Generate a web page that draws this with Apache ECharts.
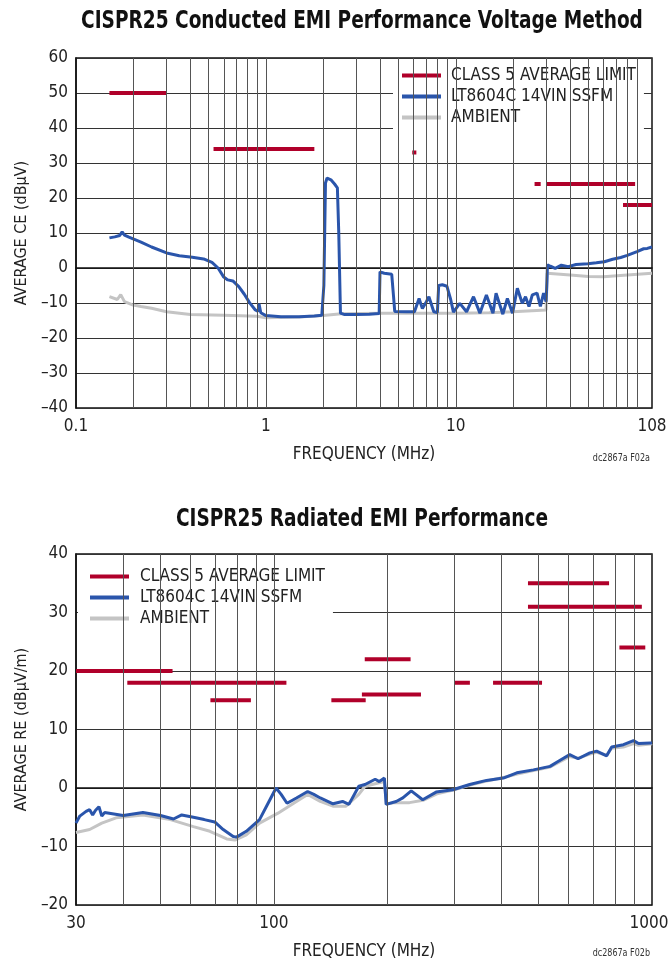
<!DOCTYPE html>
<html>
<head>
<meta charset="utf-8">
<script src="https://cdn.jsdelivr.net/npm/echarts@6/dist/echarts.min.js"></script>
<style>
html, body { margin: 0; padding: 0; background: #fff; }
#chart { width: 668px; height: 962px; }
</style>
</head>
<body>
<div id="chart"></div>
<script>
var FONT = '"DejaVu Sans Condensed", "Liberation Sans", sans-serif';

// ---- conducted (top chart) ----
// limit segments: [fStart MHz, fEnd MHz, dBuV]
var ceLimitSegs = [[0.15, 0.3, 50], [0.53, 1.8, 34], [5.9, 6.2, 33], [26, 28, 24], [30, 54, 24], [41, 88, 24], [76, 108, 18]];
var ceDut = [[0.15, 8.6], [0.16, 8.9], [0.17, 9.3], [0.175, 10.3], [0.18, 9.4], [0.19, 8.8], [0.2, 8.3], [0.22, 7.4], [0.25, 6.0],
  [0.3, 4.3], [0.35, 3.5], [0.41, 3.1], [0.47, 2.6], [0.52, 1.6], [0.56, 0.0], [0.6, -2.6], [0.63, -3.4], [0.67, -3.7],
  [0.72, -5.3], [0.77, -7.5], [0.82, -9.9], [0.88, -12.0], [0.91, -12.4], [0.92, -10.2], [0.94, -12.8], [1.0, -13.6],
  [1.2, -13.9], [1.5, -13.9], [1.8, -13.7], [1.97, -13.5], [2.02, -5], [2.06, 24.3], [2.1, 25.7], [2.2, 25.2], [2.3, 24.0],
  [2.38, 22.9], [2.42, 10], [2.47, -12.9], [2.6, -13.3], [3.0, -13.3], [3.5, -13.2], [3.95, -13.0], [3.99, -1.1], [4.2, -1.5],
  [4.6, -1.8], [4.7, -8], [4.77, -12.4], [5.5, -12.5], [6.06, -12.5], [6.41, -8.7], [6.67, -11.6], [6.93, -10.1], [7.22, -8.2],
  [7.66, -12.5], [8.0, -12.7], [8.13, -5.0], [8.5, -4.8], [8.98, -5.2], [9.4, -9], [9.72, -12.6], [10.5, -10.1], [11.4, -12.5],
  [12.4, -8.2], [13.4, -12.9], [14.5, -7.7], [15.7, -12.9], [16.3, -7.2], [17.7, -13.2], [18.7, -8.7], [19.9, -12.9],
  [21.1, -5.8], [22.4, -10.1], [23.3, -8.2], [24.3, -11.0], [25.3, -7.7], [26.8, -7.2], [27.9, -11.0], [29.0, -7.2],
  [29.9, -9.6], [30.2, -4], [30.4, 0.9], [31.5, 0.5], [33.4, -0.1], [36, 0.8], [39.1, 0.4], [43, 1.0], [49.6, 1.2], [55, 1.5],
  [60.6, 1.8], [67, 2.5], [73.9, 3.0], [80, 3.6], [90.1, 4.7], [97.6, 5.5], [102, 5.6], [108, 6.0]];
var ceAmbient = [[0.15, -8.2], [0.165, -9.0], [0.172, -7.6], [0.18, -9.6], [0.2, -10.6], [0.22, -11.0], [0.25, -11.5], [0.3, -12.5],
  [0.4, -13.3], [0.6, -13.5], [0.9, -13.8], [1.0, -14.2], [1.5, -14.0], [2.0, -13.6], [2.5, -13.1], [4, -12.9], [10, -12.9],
  [15, -12.8], [20, -12.5], [29.9, -12.0], [30.3, -1.5], [40, -2.0], [50, -2.4], [60, -2.5], [80, -2.0], [108, -1.5]];
var ceGridFreqs = [0.2, 0.3, 0.4, 0.5, 0.6, 0.7, 0.8, 0.9, 1, 2, 3, 4, 5, 6, 7, 8, 9, 10, 20, 30, 40, 50, 60, 70, 80, 90];
var ceTickLabels = [0.1, 1, 10, 108];

// ---- radiated (bottom chart) ----
var reLimitSegs = [[30, 54, 20], [41, 88, 18], [76, 108, 18], [68, 87, 15], [142, 175, 15], [171, 245, 16], [174, 230, 22],
  [300, 330, 18], [380, 450, 18], [420, 512, 18], [470, 770, 35], [470, 940, 31], [820, 960, 24], [860, 960, 24]];
var reDut = [[30, -6.0], [30.7, -4.8], [31.9, -4.0], [32.6, -3.7], [33.2, -4.6], [33.8, -3.8], [34.5, -3.2], [35.1, -4.8],
  [35.7, -4.2], [40, -4.7], [45.1, -4.2], [50.2, -4.7], [54.3, -5.3], [57.1, -4.6], [61.3, -5.0], [65.5, -5.4], [69.8, -5.8],
  [73.5, -7.1], [78.1, -8.3], [79.7, -8.4], [84.6, -7.4], [91.7, -5.4], [96.6, -2.6], [101.4, 0.0], [104.6, -1.1], [108.4, -2.6],
  [114.8, -1.7], [122.9, -0.6], [127.6, -1.1], [132.7, -1.7], [143.4, -2.7], [152, -2.3], [158, -2.8], [167.8, 0.3],
  [174.3, 0.6], [185.4, 1.5], [190.2, 1.1], [196.1, 1.7], [198.2, -2.8], [210.7, -2.3], [219.4, -1.7], [230.9, -0.5],
  [247.6, -2.0], [268.7, -0.7], [297.5, -0.3], [329.6, 0.6], [365.1, 1.3], [404.5, 1.7], [439.1, 2.6], [485.8, 3.1],
  [537.6, 3.7], [560, 4.4], [605.9, 5.7], [637.8, 5.0], [685, 6.0], [713.8, 6.3], [758.8, 5.5], [782.4, 7.0], [840.4, 7.4],
  [893.5, 8.1], [921.3, 7.6], [990, 7.7], [1000, 7.7]];
var reAmbient = [[30, -7.6], [32.6, -7.1], [35.1, -6.0], [38.3, -5.1], [45.1, -4.6], [53.3, -5.4], [61.3, -6.6], [67.8, -7.4],
  [75.1, -8.7], [78.9, -8.9], [84.6, -8.0], [91.7, -6.0], [102.6, -4.3], [114.8, -2.3], [122.9, -1.1], [132.7, -2.3],
  [143.4, -3.1], [155.2, -3.1], [167.8, -1.1], [174.3, 0.3], [196.1, 1.1], [198.5, -2.7], [210, -2.5], [228.5, -2.5],
  [248, -2.1], [270, -1.0], [300, -0.3], [330, 0.5], [365, 1.2], [405, 1.8], [440, 2.4], [486, 3.0], [538, 3.6], [560, 4.2],
  [606, 5.4], [638, 5.1], [685, 5.8], [714, 6.1], [759, 5.6], [782, 6.8], [840, 7.0], [893, 7.6], [921, 7.3], [990, 7.5], [1000, 7.6]];
var reGridFreqs = [40, 50, 60, 70, 80, 90, 100, 200, 300, 400, 500, 600, 700, 800, 900];
var reTickLabels = [30, 100, 1000];

var NAME_LIMIT = 'CLASS 5 AVERAGE LIMIT';
var NAME_DUT = 'LT8604C 14VIN SSFM';
var NAME_AMB = 'AMBIENT';

function segData(segs) {
  var out = [];
  segs.forEach(function (s) {
    out.push([s[0], s[2]], [s[1], s[2]], [s[1], '-']);
  });
  return out;
}

// shows only the listed ticks; the last one is nudged left so it stays on the canvas
function labelFor(list) {
  return function (v) {
    for (var i = 0; i < list.length; i++) {
      if (Math.abs(v - list[i]) / list[i] < 1e-6) {
        return i === list.length - 1 ? '{end|' + list[i] + '}' : String(list[i]);
      }
    }
    return '';
  };
}

function yLabel(v) {
  return v < 0 ? '\u2013' + Math.abs(v) : String(v);
}

function xAxisCfg(idx, min, max, labels, endPad) {
  return {
    type: 'log', logBase: 10, gridIndex: idx, min: min, max: max,
    name: 'FREQUENCY (MHz)', nameLocation: 'middle', nameGap: 38,
    nameTextStyle: { fontFamily: FONT, fontSize: 17, color: '#222' },
    axisLine: { lineStyle: { color: '#111', width: 1.5 } },
    axisTick: { show: false },
    splitLine: { show: false },
    axisLabel: {
      fontFamily: FONT, fontSize: 17, color: '#222', margin: 10, formatter: labelFor(labels),
      rich: { end: { fontFamily: FONT, fontSize: 17, color: '#222', padding: [0, endPad, 0, 0] } }
    }
  };
}

function yAxisCfg(idx, min, max, name) {
  return {
    type: 'value', gridIndex: idx, min: min, max: max, interval: 10,
    name: name, nameLocation: 'middle', nameGap: 46,
    nameTextStyle: { fontFamily: FONT, fontSize: 16, color: '#222' },
    axisLine: { show: true, lineStyle: { color: '#111', width: 1.5 } },
    axisTick: { show: false },
    splitLine: { show: true, lineStyle: { color: '#333', width: 1 } },
    axisLabel: { fontFamily: FONT, fontSize: 17, color: '#222', margin: 8, formatter: yLabel }
  };
}

function gridLines(idx, freqs) {
  return {
    type: 'line', xAxisIndex: idx, yAxisIndex: idx, data: [], silent: true, z: 1,
    markLine: {
      silent: true, animation: false, symbol: ['none', 'none'], label: { show: false },
      lineStyle: { color: '#555', width: 1, type: 'solid' },
      emphasis: { disabled: true },
      data: freqs.map(function (f) { return { xAxis: f }; })
    }
  };
}

function lineSeries(idx, name, data, color, width, z) {
  return {
    type: 'line', name: name, xAxisIndex: idx, yAxisIndex: idx, data: data, z: z,
    showSymbol: false, symbol: 'none', connectNulls: false, animation: false, silent: true,
    itemStyle: { color: color },
    lineStyle: { color: color, width: width, cap: 'butt' }
  };
}

function legendCfg(left, top, pad, textPad) {
  return {
    orient: 'vertical', left: left, top: top, selectedMode: false,
    backgroundColor: '#fff', padding: pad,
    icon: 'rect', itemWidth: 39, itemHeight: 4, itemGap: 4,
    textStyle: { fontFamily: FONT, fontSize: 17, color: '#222', padding: [0, 0, 0, textPad] },
    data: [NAME_LIMIT, NAME_DUT, NAME_AMB]
  };
}

// condensed bold headings, drawn as text and narrowed to match the reference face
function heading(text, y) {
  return {
    type: 'text', x: 362, y: y, scaleX: 0.824, silent: true,
    style: { text: text, font: 'bold 25px ' + FONT, fill: '#111', align: 'center', verticalAlign: 'middle' }
  };
}

function footnote(text, y) {
  return {
    type: 'text', x: 650, y: y, scaleX: 0.85, silent: true,
    style: { text: text, font: '10.5px ' + FONT, fill: '#333', align: 'right', verticalAlign: 'middle' }
  };
}

var RED = '#b0002a', BLUE = '#2a55ab', GRAY = '#c4c4c4';

var chart = echarts.init(document.getElementById('chart'));
chart.setOption({
  animation: false,
  backgroundColor: '#fff',
  grid: [
    { left: 76, right: 16, top: 58, height: 350, outerBoundsMode: 'none', show: true, borderColor: '#111', borderWidth: 1.5, backgroundColor: 'transparent' },
    { left: 76, right: 16, top: 554, height: 351, outerBoundsMode: 'none', show: true, borderColor: '#111', borderWidth: 1.5, backgroundColor: 'transparent' }
  ],
  legend: [legendCfg(393, 60, [7, 8, 5, 9], 5), legendCfg(78, 556, [12, 8, 7, 12], 6)],
  xAxis: [xAxisCfg(0, 0.1, 108, ceTickLabels, 0), xAxisCfg(1, 30, 1000, reTickLabels, 6)],
  yAxis: [yAxisCfg(0, -40, 60, 'AVERAGE CE (dB\u03bcV)'), yAxisCfg(1, -20, 40, 'AVERAGE RE (dB\u03bcV/m)')],
  graphic: [
    heading('CISPR25 Conducted EMI Performance Voltage Method', 21),
    heading('CISPR25 Radiated EMI Performance', 519),
    footnote('dc2867a F02a', 458),
    footnote('dc2867a F02b', 953)
  ],
  series: [
    gridLines(0, ceGridFreqs),
    lineSeries(0, NAME_AMB, ceAmbient, GRAY, 3, 2),
    lineSeries(0, NAME_DUT, ceDut, BLUE, 3, 3),
    lineSeries(0, NAME_LIMIT, segData(ceLimitSegs), RED, 4, 4),
    gridLines(1, reGridFreqs),
    lineSeries(1, NAME_AMB, reAmbient, GRAY, 3, 2),
    lineSeries(1, NAME_DUT, reDut, BLUE, 3, 3),
    lineSeries(1, NAME_LIMIT, segData(reLimitSegs), RED, 4, 4)
  ]
});
</script>
</body>
</html>
